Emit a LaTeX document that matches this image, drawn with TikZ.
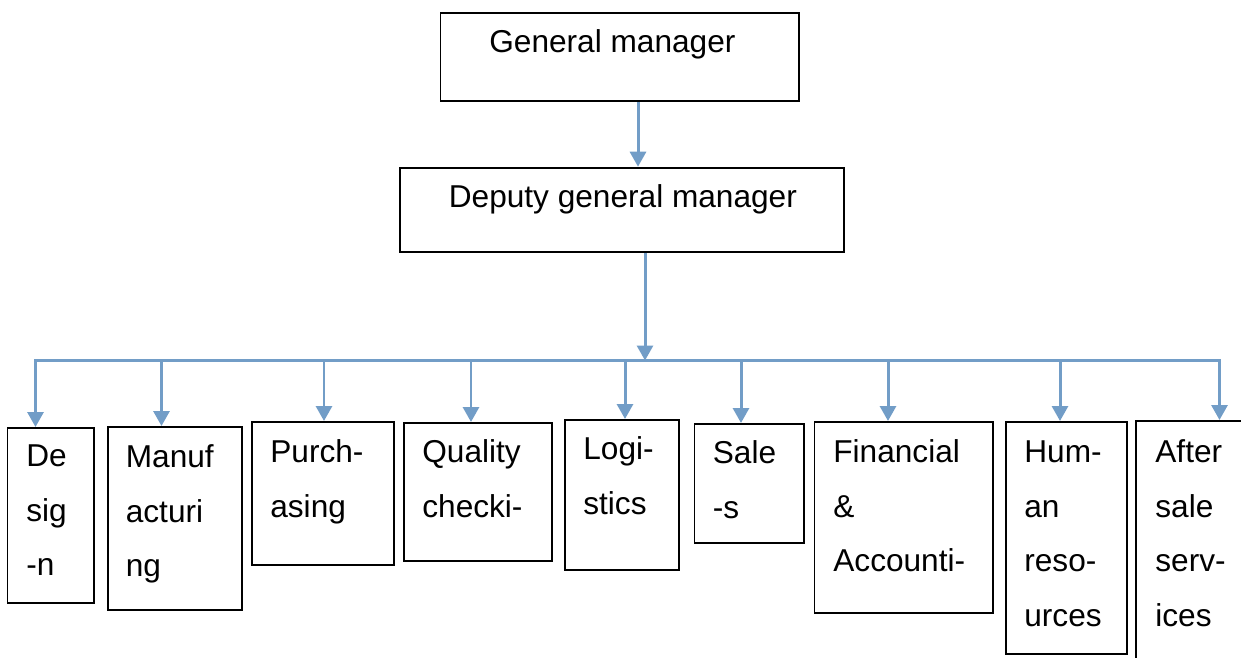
\documentclass[tikz,border=0pt]{standalone}
\usepackage{fontspec}
\setmainfont{Liberation Sans}
\usetikzlibrary{arrows.meta}
\definecolor{linkblue}{RGB}{114,157,199}
\newcommand{\boxtext}[1]{\parbox[t]{4cm}{\raggedright #1}}

\begin{document}
\begin{tikzpicture}[x=0.02cm,y=-0.02cm,
    box/.style={draw,line width=1.1pt,inner sep=0pt,anchor=north west},
    txt/.style={inner sep=0pt,anchor=base west,font=\fontsize{18}{31.3}\selectfont},
    bus/.style={linkblue,line width=1.7pt},
    link/.style={bus,-{Triangle[length=0.3cm,width=0.32cm]}}]
\useasboundingbox (0,0) rectangle (1241,657);
% top two levels
\node[box,minimum width=7.18cm,minimum height=1.77cm] (gm) at (439.5,11.7) {};
\node[txt] (gmtxt) at (489,52.7) {General manager};
\node[box,minimum width=8.87cm,minimum height=1.69cm] (deputy) at (399.3,166.7) {};
\node[txt] (deputytxt) at (448.5,207.3) {Deputy general manager};
% departments
\node[box,minimum width=1.74cm,minimum height=3.50cm] (design) at (6.5,427) {};
\node[box,minimum width=2.68cm,minimum height=3.66cm] (manuf) at (107,426) {};
\node[box,minimum width=2.84cm,minimum height=2.86cm] (purch) at (251,421) {};
\node[box,minimum width=2.96cm,minimum height=2.76cm] (quality) at (403,422) {};
\node[box,minimum width=2.28cm,minimum height=3.00cm] (logi) at (564,419) {};
\node[box,minimum width=2.19cm,minimum height=2.38cm] (sales) at (693.5,423) {};
\node[box,minimum width=3.57cm,minimum height=3.82cm] (fin) at (813.5,421) {};
\node[box,minimum width=2.42cm,minimum height=4.64cm] (hr) at (1005,421) {};
\node[box,minimum width=2.60cm,minimum height=5.20cm] (after) at (1135,420) {};
\node[txt] (designtxt) at (26,466) {\boxtext{De\\sig\\-n}};
\node[txt] (manuftxt) at (125.5,467) {\boxtext{Manuf\\acturi\\ng}};
\node[txt] (purchtxt) at (270,462) {\boxtext{Purch-\\asing}};
\node[txt] (qualitytxt) at (422,462) {\boxtext{Quality\\checki-}};
\node[txt] (logitxt) at (583,459) {\boxtext{Logi-\\stics}};
\node[txt] (salestxt) at (712.5,463) {\boxtext{Sale\\-s}};
\node[txt] (fintxt) at (833,462) {\boxtext{Financial\\\&\\Accounti-}};
\node[txt] (hrtxt) at (1024,462) {\boxtext{Hum-\\an\\reso-\\urces}};
\node[txt] (aftertxt) at (1155,462) {\boxtext{After\\sale\\serv-\\ices}};
% connectors
\coordinate (g1) at (638,0);
\draw[link] (g1 |- gm.south) -- (g1 |- deputy.north);
\coordinate (d1) at (645,360.5);
\draw[link] (d1 |- deputy.south) -- (d1);
\coordinate (busL) at (34,360.5);
\coordinate (busR) at (1221,360.5);
\draw[bus] (busL) -- (busR);
\foreach \x/\n in {35.5/design,161.5/manuf,324/purch,471/quality,625/logi,
                   741/sales,888/fin,1060/hr,1219.5/after}
  \draw[link] (\x,360.5) -- (\x,360.5 |- \n.north);
\end{tikzpicture}
\end{document}
